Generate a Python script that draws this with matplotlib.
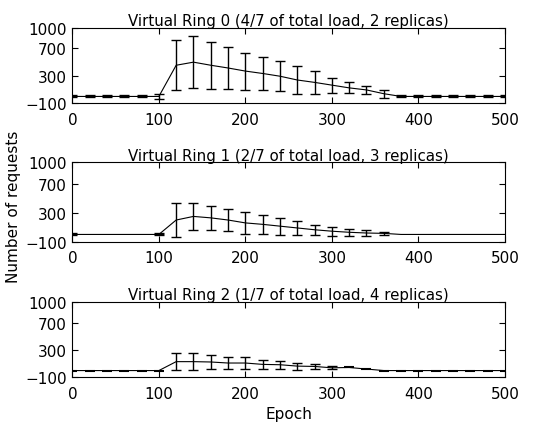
import numpy as np
import matplotlib
matplotlib.use("Agg")
import matplotlib.pyplot as plt

plt.rcParams['font.family'] = 'DejaVu Sans'
plt.rcParams['font.size'] = 11

epochs = [0, 20, 40, 60, 80, 100, 120, 140, 160, 180, 200, 220, 240,
          260, 280, 300, 320, 340, 360, 380, 400, 420, 440, 460, 480, 500]

titles = ["Virtual Ring 0 (4/7 of total load, 2 replicas)",
          "Virtual Ring 1 (2/7 of total load, 3 replicas)",
          "Virtual Ring 2 (1/7 of total load, 4 replicas)"]

# mean number of requests per epoch
ring0_mean = [0, 0, 0, 0, 0, 0, 455, 500, 455, 415, 370, 335, 295,
              240, 205, 165, 125, 95, 40, 0, 0, 0, 0, 0, 0, 0]
ring1_mean = [0, 0, 0, 0, 0, 0, 200, 250, 230, 200, 160, 140, 115,
              90, 65, 45, 30, 20, 15, 0, 0, 0, 0, 0, 0, 0]
ring2_mean = [0, 0, 0, 0, 0, 0, 130, 130, 125, 110, 110, 90, 85,
              65, 60, 40, 45, 22, 0, 0, 0, 0, 0, 0, 0, 0]

# spread (nan = no bar drawn, 0 = flat cap only)
nan = np.nan
ring0_err = [0, 0, 0, 0, 0, 30, 365, 378, 340, 300, 270, 245, 215,
             198, 170, 110, 80, 55, 60, 0, 0, 0, 0, 0, 0, 0]
ring1_err = [0, nan, nan, nan, nan, 0, 230, 185, 170, 155, 150, 130, 120,
             95, 70, 60, 45, 35, 25, nan, nan, nan, nan, nan, nan, nan]
ring2_err = [0, 0, 0, 0, 0, 0, 125, 125, 105, 90, 90, 65, 60,
             50, 40, 20, 0, 0, 0, 0, 0, 0, 0, 0, 0, 0]

means = [ring0_mean, ring1_mean, ring2_mean]
errs = [ring0_err, ring1_err, ring2_err]
flat_width = [2.4, 2.4, 1.5]

positions = [[0.134, 0.758, 0.801, 0.175],
             [0.134, 0.437, 0.801, 0.184],
             [0.134, 0.122, 0.801, 0.175]]

fig = plt.figure(figsize=(5.4, 4.31), dpi=100)

for k in range(3):
    ax = fig.add_axes(positions[k])
    x = np.array(epochs, dtype=float)
    m = np.array(means[k], dtype=float)
    e = np.array(errs[k], dtype=float)

    ax.plot(x, m, color='black', lw=0.8)

    bars = e > 0
    ax.errorbar(x[bars], m[bars], yerr=e[bars], fmt='none', ecolor='black',
                elinewidth=1.0, capsize=3.4, capthick=1.0)

    flat = e == 0
    ax.plot(x[flat], m[flat], ls='none', marker='_', color='black',
            markersize=7.5, markeredgewidth=flat_width[k])

    ax.set_xlim(0, 500)
    ax.set_ylim(-100, 1000)
    ax.set_xticks([0, 100, 200, 300, 400, 500])
    ax.set_yticks([-100, 300, 700, 1000])
    ax.tick_params(direction='in', top=True, right=True, length=4,
                   width=0.8, labelsize=11)
    ax.tick_params(axis='x', pad=6)
    ax.tick_params(axis='y', pad=4)
    for s in ax.spines.values():
        s.set_linewidth(0.8)
    ax.set_title(titles[k], fontsize=10.8, pad=2)

    if k == 2:
        ax.set_xlabel("Epoch", fontsize=11, labelpad=4)

fig.text(0.025, 0.52, "Number of requests", rotation=90, fontsize=11,
         ha='center', va='center')

fig.savefig("out.png", dpi=100)
